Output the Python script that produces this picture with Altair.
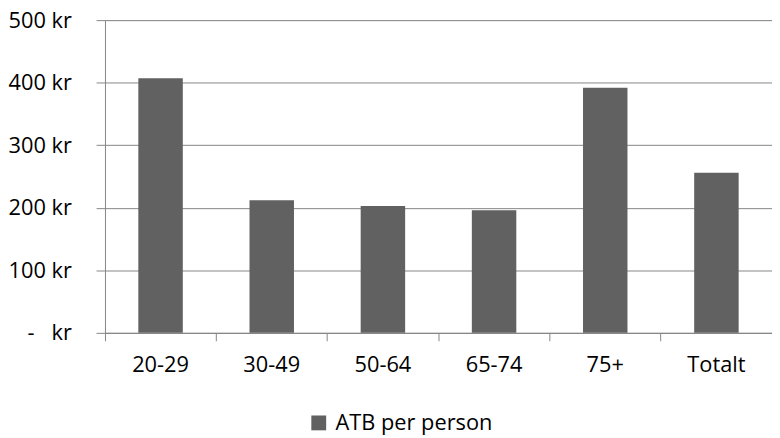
import altair as alt
import pandas as pd

categories = ["20-29", "30-49", "50-64", "65-74", "75+", "Totalt"]
values = [407, 212, 203, 196, 392, 256]
series = "ATB per person"
y_ticks = [0, 100, 200, 300, 400, 500]

df = pd.DataFrame({"kategori": categories, "verdi": values, "serie": [series] * len(categories)})

FONT = "Open Sans"
FS = 22
GRID = "#868686"
BAR = "#616161"

W = 674
H = 316

chart = alt.Chart(df).mark_bar(color=BAR, width=alt.RelativeBandSize(0.4)).encode(
    x=alt.X("kategori:N", sort=categories, title=None,
            scale=alt.Scale(paddingInner=0, paddingOuter=0),
            axis=alt.Axis(labelAngle=0, bandPosition=0,
                          tickSize=8, tickColor=GRID, tickWidth=1, domainColor=GRID,
                          labelFont=FONT, labelFontSize=FS, labelColor="#000000",
                          labelBaseline="middle", labelPadding=24, grid=False)),
    y=alt.Y("verdi:Q", title=None,
            scale=alt.Scale(domain=[0, 500], nice=False),
            axis=alt.Axis(values=y_ticks, tickSize=9, tickColor=GRID, domainColor=GRID,
                          gridColor=GRID, gridWidth=1, gridOpacity=1,
                          labelExpr="datum.value == 0 ? '-\u00a0\u00a0\u00a0kr' : datum.value + ' kr'",
                          labelFont=FONT, labelFontSize=FS, labelColor="#000000",
                          labelPadding=25)),
    color=alt.Color("serie:N", title=None,
                    scale=alt.Scale(domain=[series], range=[BAR]),
                    legend=alt.Legend(orient="none", legendX=205, legendY=396,
                                      symbolType="square", symbolSize=225,
                                      symbolStrokeWidth=0, symbolOpacity=1,
                                      labelFont=FONT, labelFontSize=FS, labelColor="#000000",
                                      labelOffset=6, labelLimit=400)),
).properties(
    width=W, height=H,
    autosize=alt.AutoSizeParams(type="none"),
    padding={"left": 98, "top": 10, "right": 0, "bottom": 104},
).configure_view(stroke=None).configure(background="white")

chart.save("out.html", embed_options={"renderer": "svg", "actions": False})
